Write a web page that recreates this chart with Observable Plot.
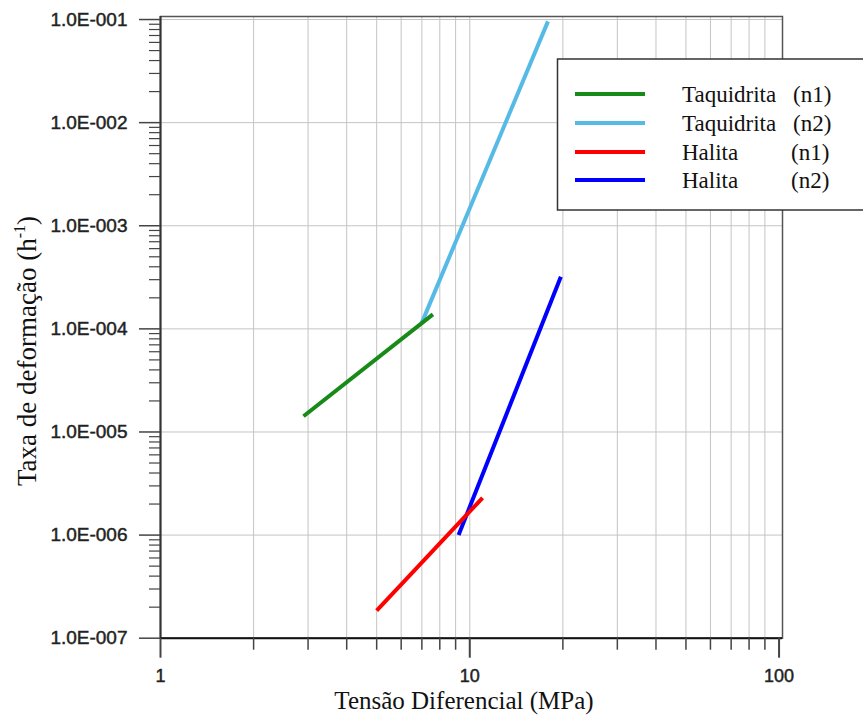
<!DOCTYPE html>
<html><head><meta charset="utf-8">
<script src="https://cdn.jsdelivr.net/npm/d3@7"></script>
<script src="https://cdn.jsdelivr.net/npm/@observablehq/plot@0.6"></script>
<style>
html,body{margin:0;padding:0;background:#fff;overflow:hidden}
svg{display:block}
g[aria-label="y-axis tick label"] text, g[aria-label="x-axis tick label"] text{stroke:#222;stroke-width:0.45px}
</style>
</head><body><div id="chart"></div>
<script>
// ---- data ----
const seriesNames = ["Taquidrita", "Taquidrita", "Halita", "Halita"];
const seriesTags = ["(n1)", "(n2)", "(n1)", "(n2)"];
const seriesColors = ["#178a17", "#55bae6", "#ff0000", "#0000ff"];

const taquidritaN1X = [2.9, 7.6];
const taquidritaN1Y = [1.42e-5, 1.38e-4];
const taquidritaN2X = [7.0, 17.9];
const taquidritaN2Y = [1.15e-4, 9.6e-2];
const halitaN1X = [5.0, 11.0];
const halitaN1Y = [1.85e-7, 2.3e-6];
const halitaN2X = [9.2, 19.7];
const halitaN2Y = [1.0e-6, 3.2e-4];

const xMajorTicks = [1, 10, 100];
const xTickLabels = ["1", "10", "100"];
const xMinorTicks = [2, 3, 4, 5, 6, 7, 8, 9, 20, 30, 40, 50, 60, 70, 80, 90];
const yMajorTicks = [1e-7, 1e-6, 1e-5, 1e-4, 1e-3, 1e-2, 1e-1];
const yTickLabels = ["1.0E-007", "1.0E-006", "1.0E-005", "1.0E-004", "1.0E-003", "1.0E-002", "1.0E-001"];
const yMinorTicks = [
  2e-7, 3e-7, 4e-7, 5e-7, 6e-7, 7e-7, 8e-7, 9e-7,
  2e-6, 3e-6, 4e-6, 5e-6, 6e-6, 7e-6, 8e-6, 9e-6,
  2e-5, 3e-5, 4e-5, 5e-5, 6e-5, 7e-5, 8e-5, 9e-5,
  2e-4, 3e-4, 4e-4, 5e-4, 6e-4, 7e-4, 8e-4, 9e-4,
  2e-3, 3e-3, 4e-3, 5e-3, 6e-3, 7e-3, 8e-3, 9e-3,
  2e-2, 3e-2, 4e-2, 5e-2, 6e-2, 7e-2, 8e-2, 9e-2
];
const xTitle = "Tensão Diferencial (MPa)";
const yTitleMain = "Taxa de deformação (h";
const yTitleSup = "-1";
const yTitleEnd = ")";

// ---- table built from arrays ----
const seriesXs = [taquidritaN1X, taquidritaN2X, halitaN1X, halitaN2X];
const seriesYs = [taquidritaN1Y, taquidritaN2Y, halitaN1Y, halitaN2Y];
const rows = [];
seriesXs.forEach((xs, i) => xs.forEach((x, j) => rows.push({s: i, x, y: seriesYs[i][j]})));
const drawOrder = [1, 0, 3, 2];

const W = 863, H = 715;
const chart = Plot.plot({
  width: W, height: H,
  marginLeft: 160, marginRight: 81, marginTop: 16, marginBottom: 77.3,
  x: {type: "log", domain: [1, 102.6], label: null},
  y: {type: "log", domain: [1e-7, 0.107], label: null},
  style: {background: "#fff", overflow: "visible"},
  marks: [
    Plot.gridX([...xMinorTicks, 10], {stroke: "#c4c4c4", strokeOpacity: 1, strokeWidth: 1}),
    Plot.gridY(yMajorTicks.slice(1, -1).concat([1e-1]), {stroke: "#c4c4c4", strokeOpacity: 1, strokeWidth: 1}),
    ...drawOrder.map(i => Plot.line(rows.filter(r => r.s === i), {
      x: "x", y: "y", stroke: seriesColors[i], strokeWidth: 4, strokeLinecap: "butt"
    })),
    Plot.frame({stroke: "#555", strokeWidth: 1.5}),
    Plot.ruleX([1], {stroke: "#333", strokeWidth: 2}),
    Plot.ruleY([1e-7], {stroke: "#111", strokeWidth: 2}),
    Plot.axisX(xMajorTicks, {tickSize: 20, tickPadding: 11, stroke: "#444", strokeWidth: 2,
      fill: "#222", fontSize: 18, fontFamily: "Liberation Sans, Arial, sans-serif",
      tickFormat: d => xTickLabels[xMajorTicks.indexOf(d)], label: null}),
    Plot.axisX(xMinorTicks, {tickSize: 12, stroke: "#444", strokeWidth: 1.5, tickFormat: () => "", label: null}),
    Plot.axisY(yMajorTicks, {tickSize: 21, tickPadding: 12, stroke: "#444", strokeWidth: 1.5,
      fill: "#222", fontSize: 19, fontFamily: "Liberation Sans, Arial, sans-serif",
      tickFormat: d => yTickLabels[yMajorTicks.indexOf(d)], label: null}),
    Plot.axisY(yMinorTicks, {tickSize: 11, stroke: "#444", strokeWidth: 1.2, tickFormat: () => "", label: null})
  ]
});
document.getElementById("chart").appendChild(chart);

const svg = d3.select(chart);
const serif = "Liberation Serif, Times New Roman, serif";

// x title
svg.append("text").attr("x", 464).attr("y", 708.5).attr("text-anchor", "middle")
  .attr("font-family", serif).attr("font-size", 25).attr("fill", "#111").text(xTitle);

// y title
const yt = svg.append("text").attr("transform", "translate(36,351) rotate(-90)")
  .attr("text-anchor", "middle").attr("font-family", serif).attr("font-size", 27).attr("fill", "#111");
yt.append("tspan").text(yTitleMain);
yt.append("tspan").attr("font-size", 16).attr("dy", -11).text(yTitleSup);
yt.append("tspan").attr("font-size", 27).attr("dy", 11).text(yTitleEnd);

// legend
const lg = svg.append("g").attr("text-anchor", "start");
lg.append("rect").attr("x", 557.5).attr("y", 59).attr("width", 330).attr("height", 151)
  .attr("fill", "#fff").attr("stroke", "#333").attr("stroke-width", 1.5);
const rowY = [94, 123, 152, 180];
seriesNames.forEach((name, i) => {
  lg.append("line").attr("x1", 575).attr("x2", 645).attr("y1", rowY[i]).attr("y2", rowY[i])
    .attr("stroke", seriesColors[i]).attr("stroke-width", 4);
  lg.append("text").attr("x", 682).attr("y", rowY[i] + 8).attr("text-anchor", "start").attr("font-family", serif)
    .attr("font-size", 23).attr("fill", "#111").text(name);
  lg.append("text").attr("x", name === "Halita" ? 791 : 793).attr("y", rowY[i] + 8).attr("text-anchor", "start").attr("font-family", serif)
    .attr("font-size", 23).attr("fill", "#111").text(seriesTags[i]);
});
</script></body></html>
